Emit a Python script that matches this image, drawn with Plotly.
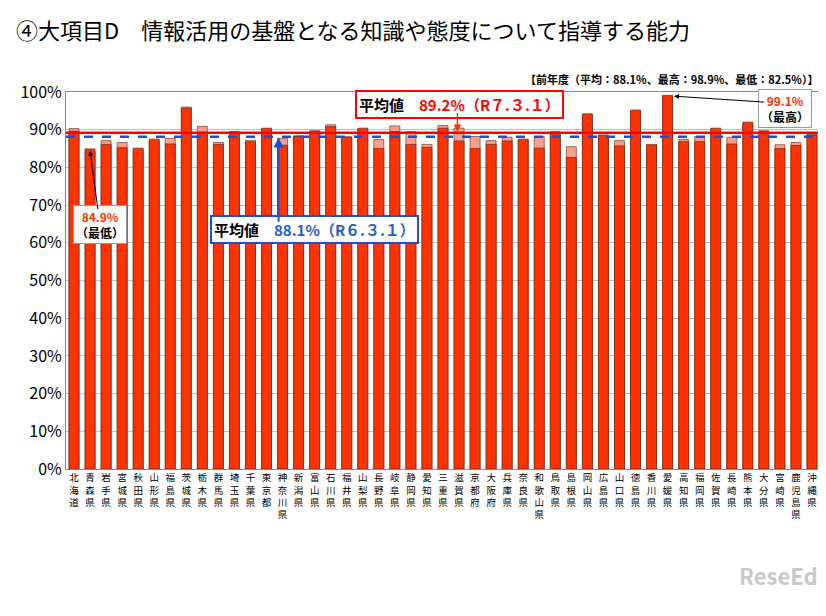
import plotly.graph_objects as go

prefs = ['北海道', '青森県', '岩手県', '宮城県', '秋田県', '山形県', '福島県', '茨城県', '栃木県', '群馬県',
         '埼玉県', '千葉県', '東京都', '神奈川県', '新潟県', '富山県', '石川県', '福井県', '山梨県', '長野県',
         '岐阜県', '静岡県', '愛知県', '三重県', '滋賀県', '京都府', '大阪府', '兵庫県', '奈良県', '和歌山県',
         '鳥取県', '島根県', '岡山県', '広島県', '山口県', '徳島県', '香川県', '愛媛県', '高知県', '福岡県',
         '佐賀県', '長崎県', '熊本県', '大分県', '宮崎県', '鹿児島県', '沖縄県']
r7 = [89.6, 84.9, 86.1, 85.2, 85.1, 87.5, 86.2, 95.7, 89.3, 86.1,
      89.5, 86.8, 90.4, 85.9, 88.2, 89.7, 90.8, 88.1, 90.4, 85.0,
      89.5, 86.1, 85.3, 90.4, 87.0, 85.0, 86.1, 87.0, 87.5, 85.1,
      89.3, 82.6, 94.2, 88.6, 85.7, 95.2, 85.9, 99.1, 86.8, 86.8,
      90.4, 86.2, 92.0, 89.7, 85.0, 85.8, 88.6]
r6 = [90.3, 84.3, 87.1, 86.6, 84.6, 87.0, 87.7, 96.0, 90.9, 86.6,
      89.3, 87.2, 90.1, 87.7, 88.4, 89.3, 91.3, 87.8, 90.0, 87.4,
      91.0, 89.5, 86.1, 91.1, 90.4, 88.2, 87.1, 88.0, 87.2, 88.2,
      89.5, 85.5, 93.8, 88.4, 87.1, 94.8, 86.1, 98.9, 87.4, 88.2,
      90.1, 88.0, 91.7, 89.3, 86.0, 86.6, 88.8]
avg_r7 = 89.2
avg_r6 = 88.1
ticks = [0, 10, 20, 30, 40, 50, 60, 70, 80, 90, 100]

labels = ['<br>'.join(p) for p in prefs]

fig = go.Figure()
fig.add_trace(go.Bar(x=prefs, y=r6, marker=dict(color='#f7a08c', line=dict(color='#8a4a40', width=0.8)),
                     width=0.62, name='R6'))
fig.add_trace(go.Bar(x=prefs, y=r7, marker=dict(color='#ff3300', line=dict(color='#7a2a1a', width=0.8)),
                     width=0.62, name='R7'))

fig.add_hline(y=avg_r7, line=dict(color='#ff0000', width=2.5))
fig.add_hline(y=avg_r6, line=dict(color='#1f4fd0', width=2.5, dash='dash'))

# red box 89.2
fig.add_annotation(x=24.0, y=96.6, xref='x', yref='y', showarrow=False,
                   text='<b><span style="color:#000">平均値　</span>89.2%（R７.３.１）</b>',
                   font=dict(size=15, color='#ff0000'), bgcolor='white',
                   bordercolor='#ff0000', borderwidth=2, borderpad=2)
fig.add_annotation(x=23.9, y=avg_r7 + 0.2, ax=23.9, ay=94.8, axref='x', ayref='y', xref='x', yref='y',
                   showarrow=True, arrowhead=2, arrowcolor='#ff3300', arrowwidth=1.5, text='')
# blue box 88.1
fig.add_annotation(x=15.0, y=63.5, xref='x', yref='y', showarrow=False,
                   text='<b><span style="color:#000">平均値　</span>88.1%（R６.３.１）</b>',
                   font=dict(size=15, color='#1f5fd0'), bgcolor='white',
                   bordercolor='#1f4fd0', borderwidth=2, borderpad=2)
fig.add_annotation(x=12.75, y=avg_r6 - 0.2, ax=12.75, ay=65.2, axref='x', ayref='y', xref='x', yref='y',
                   showarrow=True, arrowhead=2, arrowcolor='#1f4fd0', arrowwidth=2, text='')
# min box
fig.add_annotation(x=1.6, y=64.8, xref='x', yref='y', showarrow=False,
                   text='<b>84.9%</b><br><b><span style="color:#000">（最低）</span></b>',
                   font=dict(size=12, color='#ff3300'), bgcolor='white',
                   bordercolor='#999', borderwidth=1, borderpad=2)
fig.add_annotation(x=1, y=r7[1] - 0.5, ax=1.5, ay=68.5, axref='x', ayref='y', xref='x', yref='y',
                   showarrow=True, arrowhead=2, arrowcolor='#000', arrowwidth=1, text='')
# max box
fig.add_annotation(x=44.3, y=95.6, xref='x', yref='y', showarrow=False,
                   text='<b>99.1%</b><br><b><span style="color:#000">（最高）</span></b>',
                   font=dict(size=12, color='#ff3300'), bgcolor='white',
                   bordercolor='#999', borderwidth=1, borderpad=2)
fig.add_annotation(x=37.4, y=98.9, ax=43.1, ay=97.3, axref='x', ayref='y', xref='x', yref='y',
                   showarrow=True, arrowhead=2, arrowcolor='#000', arrowwidth=1, text='')

fig.add_annotation(x=1, y=1.06, xref='paper', yref='paper', xanchor='right', showarrow=False,
                   text='<b>【前年度（平均：88.1%、最高：98.9%、最低：82.5%）】</b>',
                   font=dict(size=11, color='#000'))
fig.add_annotation(x=1.0, y=-0.33, xref='paper', yref='paper', xanchor='right', showarrow=False,
                   text='<b>ReseEd</b>', font=dict(size=22, color='#c8c8c8'))

fig.update_layout(
    width=812, height=604,
    title=dict(text='④大項目D　情報活用の基盤となる知識や態度について指導する能力',
               x=0.01, y=0.975, font=dict(size=22, color='#000')),
    font=dict(family='Noto Sans CJK JP', color='#000'),
    barmode='overlay', showlegend=False,
    plot_bgcolor='white', paper_bgcolor='white',
    margin=dict(l=58, r=0, t=84, b=143),
    xaxis=dict(tickmode='array', tickvals=prefs, ticktext=labels, tickangle=0, automargin=False,
               tickfont=dict(size=9.5), showline=True, linecolor='#888', mirror=True,
               range=[-0.5, 46.5]),
    yaxis=dict(range=[0, 100], tickvals=ticks, ticktext=[f'{t}%' for t in ticks], automargin=False,
               tickfont=dict(size=16), showgrid=True, gridcolor='#bbbbbb',
               showline=True, linecolor='#888', mirror=True),
)
fig.write_html('out.html')
